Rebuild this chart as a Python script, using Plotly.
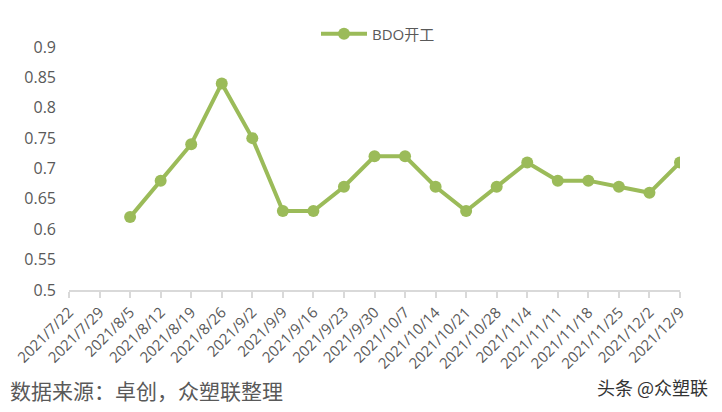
import plotly.graph_objects as go

categories = ["2021/7/22", "2021/7/29", "2021/8/5", "2021/8/12", "2021/8/19", "2021/8/26",
              "2021/9/2", "2021/9/9", "2021/9/16", "2021/9/23", "2021/9/30", "2021/10/7",
              "2021/10/14", "2021/10/21", "2021/10/28", "2021/11/4", "2021/11/11",
              "2021/11/18", "2021/11/25", "2021/12/2", "2021/12/9"]
bdo_rate = [None, None, 0.62, 0.68, 0.74, 0.84, 0.75, 0.63, 0.63, 0.67, 0.72, 0.72,
            0.67, 0.63, 0.67, 0.71, 0.68, 0.68, 0.67, 0.66, 0.71]
y_ticks = [0.5, 0.55, 0.6, 0.65, 0.7, 0.75, 0.8, 0.85, 0.9]
y_tick_labels = ["0.5", "0.55", "0.6", "0.65", "0.7", "0.75", "0.8", "0.85", "0.9"]

fig = go.Figure()
fig.add_trace(go.Scatter(
    x=categories, y=bdo_rate, mode="lines+markers", name="BDO开工",
    line=dict(color="#9BBB59", width=4),
    marker=dict(color="#9BBB59", size=12),
    connectgaps=False,
))

# page body has an 8px margin, so the figure is 714x404 and margins are reduced by 8
fig.update_layout(
    width=714, height=404,
    margin=dict(l=61, r=42, t=39, b=122, autoexpand=False),
    paper_bgcolor="white", plot_bgcolor="white",
    font=dict(family="Open Sans, Noto Sans CJK SC, sans-serif", color="#595959", size=14),
    showlegend=True,
    legend=dict(orientation="h", xref="container", yref="container",
                x=(378 - 8) / 714, xanchor="center", y=1 - (34 - 8) / 404, yanchor="middle",
                font=dict(size=15, color="#595959"), bgcolor="rgba(0,0,0,0)",
                itemwidth=46),
    xaxis=dict(
        type="category", categoryorder="array", categoryarray=categories,
        range=[0, len(categories) - 1], automargin=False,
        tickmode="array", tickvals=categories, ticktext=categories,
        tickangle=-45, showline=True, linecolor="#D9D9D9", linewidth=1.5,
        ticks="outside", ticklen=6, tickcolor="#D9D9D9", tickwidth=1.5,
        showgrid=False, zeroline=False, tickfont=dict(size=15, color="#595959"),
    ),
    yaxis=dict(
        range=[0.5, 0.9], tickmode="array", tickvals=y_ticks, ticktext=y_tick_labels,
        showline=False, showgrid=False, zeroline=False, ticks="", automargin=False,
        ticklabelstandoff=12,
        tickfont=dict(size=16, color="#595959"),
    ),
    annotations=[
        dict(text="数据来源：卓创，众塑联整理", xref="paper", yref="paper",
             x=-61/611, y=-100/243, xanchor="left", yanchor="middle", showarrow=False,
             font=dict(size=21, color="#595959",
                       family="Noto Sans CJK SC, sans-serif")),
        dict(text="头条 @众塑联", xref="paper", yref="paper",
             x=(710-69)/611, y=-97/243, xanchor="right", yanchor="middle", showarrow=False,
             font=dict(size=18, color="#333333",
                       family="Noto Sans CJK SC, sans-serif")),
    ],
)

fig.write_html("out.html")
